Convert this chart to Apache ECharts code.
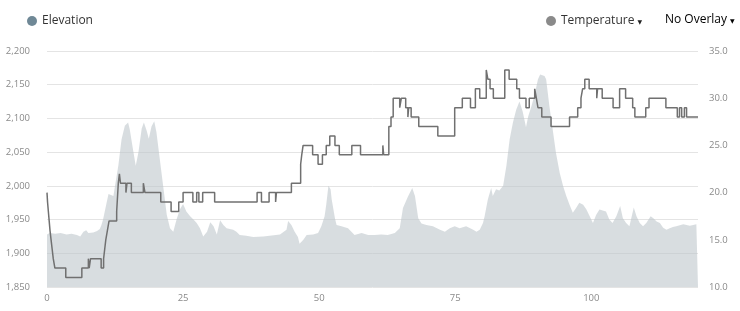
<!DOCTYPE html>
<html>
<head>
<meta charset="utf-8">
<script src="https://cdn.jsdelivr.net/npm/echarts@6/dist/echarts.min.js"></script>
<style>
html,body{margin:0;padding:0;background:#fff;}
#chart{width:740px;height:311px;}
</style>
</head>
<body>
<div id="chart"></div>
<script>
// x positions (distance) and elevation values
const elevX = [0,0.5,1.5,2.5,3.6,4.5,5.5,6.1,6.7,7.2,7.6,8.5,9.2,9.7,10.0,10.3,10.95,11.3,11.6,12.2,12.5,13.1,13.7,14.3,14.9,15.2,15.8,16.3,16.8,17.4,17.8,18.3,18.7,19.2,19.7,20.1,20.7,21.4,22.0,22.6,23.2,23.8,24.4,25.0,25.6,26.3,26.9,27.5,28.1,28.7,29.4,30.0,30.6,31.2,31.8,32.4,33.0,33.6,34.2,34.8,35.4,36.6,37.9,39.7,40.9,42.8,44.0,44.3,44.9,45.5,46.1,46.4,47.1,47.7,48.9,49.8,50.4,51.0,51.3,51.7,52.1,52.3,52.9,53.2,54.1,55.3,56.5,57.8,59.0,60.2,61.4,62.6,63.9,64.8,65.4,66.3,67.1,67.6,68.2,68.8,69.7,70.9,72.2,73.1,74.0,74.9,75.8,77.0,78.3,78.9,79.5,80.1,80.4,81.0,81.6,81.9,82.5,83.1,83.8,84.4,85.0,85.6,86.2,86.8,87.4,88.0,88.4,89.0,89.6,90.2,90.6,91.4,91.7,92.3,92.9,93.5,94.2,94.8,95.4,96.0,96.6,97.2,97.8,98.5,99.1,99.7,100.3,100.9,101.5,102.7,103.3,103.9,104.6,105.3,105.8,106.4,107.0,107.8,108.3,108.9,109.5,110.1,110.9,111.4,112.0,112.6,113.2,113.8,114.4,115.0,115.6,116.9,118.1,119.3,119.6];
const elevation = [1928,1930,1929,1930,1928,1929,1927,1925,1932,1934,1930,1931,1933,1936,1942,1950,1975,1988,1990,1985,2000,2030,2069,2089,2094,2084,2054,2030,2050,2085,2094,2082,2070,2088,2096,2080,2041,1996,1957,1937,1932,1950,1965,1973,1962,1955,1950,1945,1937,1925,1932,1946,1940,1928,1949,1942,1937,1936,1935,1932,1927,1926,1924,1925,1926,1928,1935,1948,1942,1932,1924,1914,1920,1927,1928,1930,1940,1955,1972,2000,1995,1980,1952,1942,1940,1937,1927,1930,1927,1927,1928,1927,1930,1937,1967,1984,1997,1985,1952,1944,1942,1940,1935,1932,1937,1940,1937,1940,1935,1932,1935,1945,1955,1980,1997,1985,1995,1993,2000,2030,2069,2094,2113,2125,2110,2087,2103,2118,2136,2158,2165,2163,2158,2118,2084,2049,2019,2000,1985,1972,1960,1967,1975,1972,1965,1955,1945,1957,1965,1962,1950,1945,1955,1970,1952,1945,1940,1968,1955,1945,1940,1945,1955,1952,1947,1945,1938,1935,1937,1939,1940,1943,1941,1943,1943];

// temperature: x where each level starts, and the level
const tempX = [0,0.1,0.25,0.4,0.55,0.75,0.95,1.15,1.45,3.45,6.4,7.6,7.75,8.0,9.95,10.4,10.6,10.8,11.1,11.4,12.8,13.1,13.3,13.5,14.5,14.7,15.5,17.7,18.0,20.9,22.8,24.2,25.0,26.8,27.5,27.9,28.6,30.8,38.6,39.4,40.8,42.0,42.15,44.9,46.6,46.8,47.05,48.8,49.8,50.6,51.3,51.95,52.9,53.7,56.0,57.6,61.7,61.85,62.8,63.2,63.6,64.8,65.1,65.9,66.3,66.45,66.9,68.3,71.8,74.9,76.3,77.8,78.7,79.5,80.7,81.0,81.4,82.0,84.1,84.9,86.3,86.8,88.0,88.6,89.6,89.9,90.2,90.9,92.6,96.0,97.5,98.1,98.4,98.8,99.6,101.0,101.15,102.0,104.0,105.2,106.3,107.6,108.0,110.0,110.6,113.7,115.8,116.2,116.6,117.1,117.5,119.6];
const temperature = [20,19,18,17,16,15,14,13,12,11,12,13,12,13,12,13,14,15,16,17,18,21,22,21,20,21,20,21,20,19,18,19,20,19,20,19,20,19,20,19,20,19,20,21,23,24,25,24,23,24,25,26,25,24,25,24,25,24,27,28,30,29,30,29,28,29,28,27,26,29,30,29,31,30,33,32,31,30,33,32,31,30,29,30,31,30,29,28,27,28,29,30,31,32,31,30,31,30,29,31,30,29,28,29,30,29,28,29,28,29,28,28];

const elevTicks = [1850, 2200, 50];
const tempTicks = [10, 35, 5];
const xTicks = [0, 119.6, 25];

const FONT = "'Open Sans', 'DejaVu Sans', sans-serif";
const chart = echarts.init(document.getElementById('chart'), null, {renderer: 'canvas'});

const elevData = elevX.map((x, i) => [x, elevation[i]]);
const tempData = tempX.map((x, i) => [x, temperature[i]]);

chart.setOption({
  animation: false,
  backgroundColor: '#fff',
  grid: {left: 47, right: 42, top: 51, bottom: 24, containLabel: false},
  legend: [
    {
      data: [{name: 'Elevation', itemStyle: {color: '#6f8896'}}],
      left: 27, top: 15, padding: 0, icon: 'circle', itemWidth: 10, itemHeight: 10,
      selectedMode: false,
      textStyle: {fontFamily: FONT, fontSize: 12, color: '#333'}
    },
    {
      data: [{name: 'Temperature', itemStyle: {color: '#8a8a8a'}}],
      left: 546, top: 15, padding: 0, icon: 'circle', itemWidth: 10, itemHeight: 10,
      selectedMode: false,
      formatter: n => '{n|' + n + '}{a|▼}',
      textStyle: {fontFamily: FONT, fontSize: 12, color: '#333',
        rich: {n: {fontFamily: FONT, fontSize: 12, color: '#333'},
               a: {fontFamily: 'DejaVu Sans', fontSize: 6, color: '#222', padding: [3, 0, 0, 3]}}}
    }
  ],
  graphic: [
    {type: 'text', x: 665, y: 20,
     style: {text: '{n|No Overlay}{a|▼}', fontFamily: FONT, verticalAlign: 'middle',
       rich: {n: {fontFamily: FONT, fontSize: 12, color: '#333'},
              a: {fontFamily: 'DejaVu Sans', fontSize: 6, color: '#222', padding: [3, 0, 0, 3]}}}}
  ],
  xAxis: {
    type: 'value', min: xTicks[0], max: xTicks[1], interval: xTicks[2],
    axisLine: {show: false}, axisTick: {show: false}, splitLine: {show: false},
    axisLabel: {showMaxLabel: false, margin: 6, fontFamily: FONT, fontSize: 9.5, color: '#8a8a8a'}
  },
  yAxis: [
    {
      type: 'value', min: elevTicks[0], max: elevTicks[1], interval: elevTicks[2],
      axisLine: {show: false}, axisTick: {show: false},
      splitLine: {lineStyle: {color: '#e4e4e4', width: 1}},
      axisLabel: {margin: 17, fontFamily: FONT, fontSize: 9.5, color: '#8a8a8a'}
    },
    {
      type: 'value', min: tempTicks[0], max: tempTicks[1], interval: tempTicks[2],
      position: 'right',
      axisLine: {show: false}, axisTick: {show: false}, splitLine: {show: false},
      axisLabel: {margin: 11, fontFamily: FONT, fontSize: 9.5, color: '#8a8a8a',
        formatter: v => v.toFixed(1)}
    }
  ],
  series: [
    {
      name: 'Elevation', type: 'line', yAxisIndex: 0, data: elevData,
      showSymbol: false, symbol: 'none', silent: true,
      itemStyle: {color: '#6f8896'},
      lineStyle: {width: 0, opacity: 0},
      areaStyle: {color: 'rgba(188,196,201,0.58)', opacity: 1},
      z: 1
    },
    {
      name: 'Temperature', type: 'line', yAxisIndex: 1, data: tempData,
      step: 'end', showSymbol: false, symbol: 'none', silent: true,
      itemStyle: {color: '#8a8a8a'},
      lineStyle: {color: '#707070', width: 1.5},
      z: 3
    }
  ]
});
</script>
</body>
</html>
